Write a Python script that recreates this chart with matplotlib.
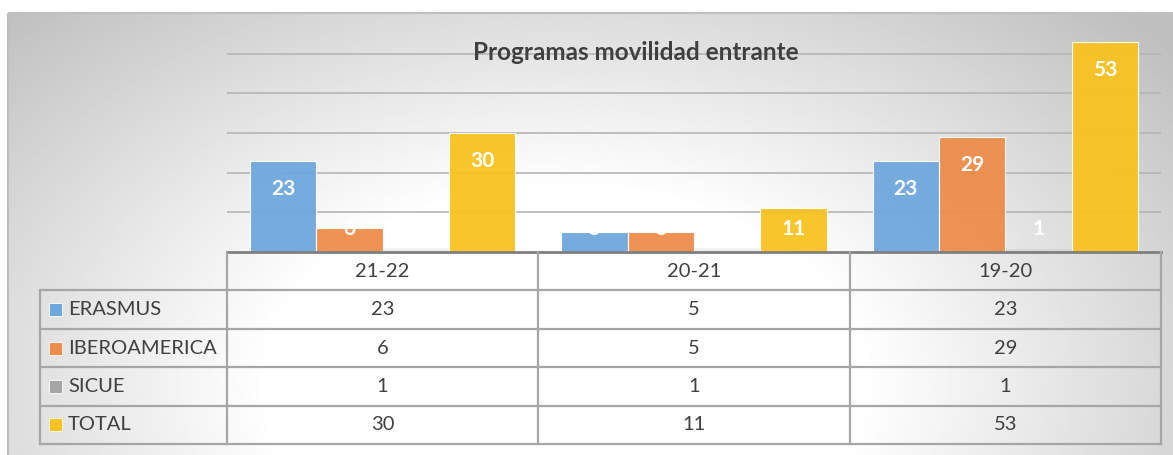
"""Programas movilidad entrante: clustered bars with an Excel-style data table."""

import matplotlib

matplotlib.use("Agg")
import matplotlib.pyplot as plt
import numpy as np
from matplotlib.patches import Rectangle

# ---- data -----------------------------------------------------------------
cursos = ["21-22", "20-21", "19-20"]
programas = ["ERASMUS", "IBEROAMERICA", "SICUE", "TOTAL"]
erasmus = [23, 5, 23]
iberoamerica = [6, 5, 29]
sicue = [1, 1, 1]
total = [30, 11, 53]
series = [erasmus, iberoamerica, sicue, total]

colores = ["#6FA8DC", "#EE8D4B", "#A5A5A5", "#F8C320"]
opacidad = [0.95, 0.95, 0.2, 0.95]  # SICUE bars are barely visible
titulo = "Programas movilidad entrante"

# ---- layout (pixels) --------------------------------------------------------
W, H = 1173, 455
DPI = 100
FONT = "Lato"
TXT = "#404040"
plot_l, plot_r = 227, 1161
base_y, top_y = 252, 14
row_h = 38.4
legend_l = 40

fig = plt.figure(figsize=(W / DPI, H / DPI), dpi=DPI)

# background: white core near the bottom centre fading to grey at the edges
bg = fig.add_axes([0, 0, 1, 1], zorder=0)
bg.set_xlim(0, W)
bg.set_ylim(H, 0)
bg.axis("off")
yy, xx = np.mgrid[0:H, 0:W]
d = np.sqrt(((xx - 560) / 600.0) ** 2 + ((yy - 380) / 400.0) ** 2)
shade = 1 - np.clip(0.3 * (d - 0.5), 0, 0.25)
bg.imshow(shade, cmap="gray", vmin=0, vmax=1, extent=(8, W, H, 13), aspect="auto")
bg.add_patch(Rectangle((8, 13), W, H, fill=False, edgecolor="#BFBFBF", lw=1.5))

# bars
ax = fig.add_axes([plot_l / W, (H - base_y) / H,
                   (plot_r - plot_l) / W, (base_y - top_y) / H], zorder=2)
ax.patch.set_alpha(0)
x = np.arange(len(cursos))
bw = 0.213
for i, (vals, col, a) in enumerate(zip(series, colores, opacidad)):
    pos = x - 1.5 * bw + i * bw
    ax.bar(pos, vals, width=bw, color=col, edgecolor="#FFFFFF", linewidth=0.8,
           alpha=a, zorder=3)
    for px, v in zip(pos, vals):
        ax.text(px, max(v - 7, 5.8), str(v), ha="center", va="center",
                color="white", fontsize=15, fontweight="bold", family=FONT,
                zorder=4, clip_on=True)
ax.set_xlim(-0.5, len(cursos) - 0.5)
ax.set_ylim(0, 60)
ax.set_yticks([10, 20, 30, 40, 50])
ax.yaxis.grid(True, color="#B5B5B5", lw=1.2, zorder=1)
ax.tick_params(left=False, bottom=False, labelleft=False, labelbottom=False)
for s in ax.spines.values():
    s.set_visible(False)

fig.text(636 / W, 1 - 52 / H, titulo, ha="center", va="center", fontsize=17.5,
         fontweight="bold", color=TXT, family=FONT, zorder=5)

# data table
tb = fig.add_axes([0, 0, 1, 1], zorder=3)
tb.set_xlim(0, W)
tb.set_ylim(H, 0)
tb.axis("off")
col_w = (plot_r - plot_l) / len(cursos)
line_kw = dict(color="#A6A6A6", lw=1.6)
tb.plot([plot_l, plot_r], [base_y, base_y], color="#7F7F7F", lw=2)
n_rows = len(programas)
bottom = base_y + row_h * (n_rows + 1)
for j in range(len(cursos) + 1):
    xj = plot_l + j * col_w
    tb.plot([xj, xj], [base_y, bottom], **line_kw)
tb.plot([legend_l, legend_l], [base_y + row_h, bottom], **line_kw)
for r in range(1, n_rows + 2):
    yr = base_y + r * row_h
    tb.plot([legend_l, plot_r], [yr, yr], **line_kw)

fs = 14.5
for j, c in enumerate(cursos):
    tb.text(plot_l + (j + 0.5) * col_w, base_y + row_h / 2, c, ha="center",
            va="center", fontsize=fs, color=TXT, family=FONT)
for r, (nombre, vals, col) in enumerate(zip(programas, series, colores)):
    yc = base_y + (r + 1.5) * row_h
    tb.add_patch(Rectangle((49, yc - 6.5), 13, 13, facecolor=col,
                           edgecolor="#FFFFFF", lw=0.6))
    tb.text(68, yc, nombre, ha="left", va="center", fontsize=fs, color=TXT,
            family=FONT)
    for j, v in enumerate(vals):
        tb.text(plot_l + (j + 0.5) * col_w, yc, str(v), ha="center",
                va="center", fontsize=fs, color=TXT, family=FONT)

fig.savefig("out.png", dpi=DPI)
